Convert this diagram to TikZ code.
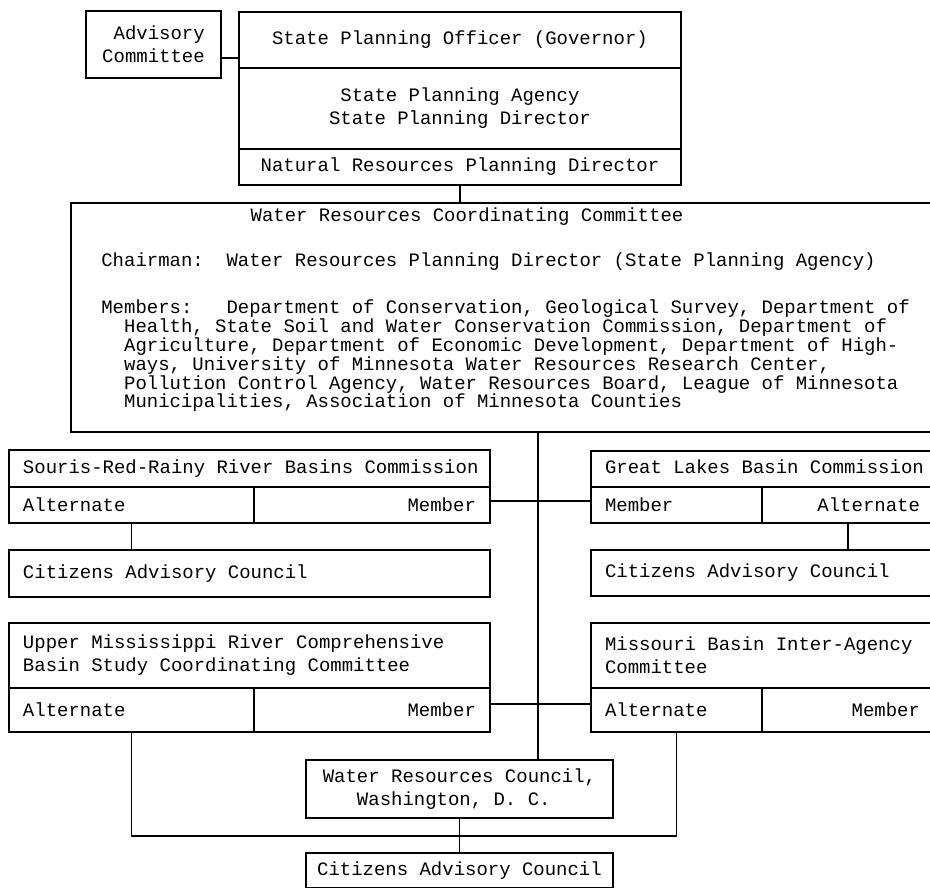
\documentclass[tikz,border=0pt]{standalone}
\usepackage{fontspec}
\setmainfont{Liberation Mono}[WordSpace={1,0,0}]
\usepackage{tikz}
\usetikzlibrary{positioning}

\tikzset{
  cell/.style={draw,line width=0.9pt,outer sep=0pt,inner xsep=0.28cm,inner ysep=0pt,
    execute at begin node={\spaceskip=0.6em\xspaceskip=0.6em\relax}},
  link/.style={line width=0.9pt},
}

\begin{document}
\begin{tikzpicture}[x=0.02cm,y=-0.02cm,font=\fontsize{10.8pt}{13pt}\selectfont]
  \clip (0,0) rectangle (930,887);

  % state planning stack
  \node[cell,anchor=north west,minimum width=8.84cm,minimum height=1.12cm] (spo) at (239,12) {State Planning Officer (Governor)};
  \node[cell,below=0pt of spo,minimum width=8.84cm,minimum height=1.62cm,align=center] (spa) {State Planning Agency\\ State Planning Director};
  \node[cell,below=0pt of spa,minimum width=8.84cm,minimum height=0.72cm] (nrp) {Natural Resources Planning Director};
  \node[cell,anchor=north west,minimum width=2.70cm,minimum height=1.34cm,align=right] (adv) at (86,11) {Advisory\\ Committee};

  % coordinating committee
  \node[cell,anchor=north west,minimum width=17.26cm,minimum height=4.58cm] (wrcc) at (71,203) {};
  \node[inner sep=0pt] (wrcc-head) at (467,217) {Water Resources Coordinating Committee};
  \node[inner sep=0pt,anchor=west] (wrcc-chair) at (101,262) {Chairman:\hspace{1.2em}Water Resources Planning Director (State Planning Agency)};
  \node[inner sep=0pt,anchor=north west,align=left,font=\fontsize{10.8pt}{10.8pt}\selectfont] (wrcc-mem) at (101,299)
    {Members:\hspace{1.8em}Department of Conservation, Geological Survey, Department of\\
     \hspace*{1.2em}Health, State Soil and Water Conservation Commission, Department of\\
     \hspace*{1.2em}Agriculture, Department of Economic Development, Department of High-\\
     \hspace*{1.2em}ways, University of Minnesota Water Resources Research Center,\\
     \hspace*{1.2em}Pollution Control Agency, Water Resources Board, League of Minnesota\\
     \hspace*{1.2em}Municipalities, Association of Minnesota Counties};

  % left column
  \node[cell,anchor=north west,text width=9.06cm,minimum height=0.74cm,align=left] (srr) at (9,450) {\mbox{Souris-Red-Rainy River Basins Commission}};
  \node[cell,below right=0pt of srr.south west,text width=4.34cm,minimum height=0.72cm,align=left] (srr-alt) {Alternate};
  \node[cell,right=0pt of srr-alt,text width=4.16cm,minimum height=0.72cm,align=right] (srr-mem) {Member};
  \node[cell,anchor=north west,text width=9.06cm,minimum height=0.94cm,align=left] (srr-cac) at (9,550) {Citizens Advisory Council};
  \node[cell,anchor=north west,text width=9.06cm,minimum height=1.30cm,align=left] (umr) at (9,623) {Upper Mississippi River Comprehensive\\ Basin Study Coordinating Committee};
  \node[cell,below right=0pt of umr.south west,text width=4.34cm,minimum height=0.88cm,align=left] (umr-alt) {Alternate};
  \node[cell,right=0pt of umr-alt,text width=4.16cm,minimum height=0.88cm,align=right] (umr-mem) {Member};

  % right column
  \node[cell,anchor=north west,text width=6.30cm,minimum height=0.72cm,align=left] (glb) at (591,451) {\mbox{Great Lakes Basin Commission\vphantom{y}}};
  \node[cell,below right=0pt of glb.south west,text width=2.86cm,minimum height=0.72cm,align=left] (glb-mem) {Member};
  \node[cell,right=0pt of glb-mem,text width=2.88cm,minimum height=0.72cm,align=right] (glb-alt) {Alternate};
  \node[cell,anchor=north west,text width=6.30cm,minimum height=0.92cm,align=left] (glb-cac) at (591,550) {Citizens Advisory Council};
  \node[cell,anchor=north west,text width=6.30cm,minimum height=1.30cm,align=left] (mbi) at (591,623) {Missouri Basin Inter-Agency\\ Committee};
  \node[cell,below right=0pt of mbi.south west,text width=2.86cm,minimum height=0.88cm,align=left] (mbi-alt) {Alternate};
  \node[cell,right=0pt of mbi-alt,text width=2.88cm,minimum height=0.88cm,align=right] (mbi-mem) {Member};

  % federal level
  \node[cell,anchor=north west,minimum width=6.14cm,minimum height=1.16cm,align=left] (wrc) at (306,760) {Water Resources Council,\\ \hspace*{1.8em}Washington, D. C.};
  \node[cell,anchor=north west,inner xsep=0.2cm,minimum width=6.14cm,minimum height=0.70cm] (wrc-cac) at (306,853) {Citizens Advisory Council};

  % connectors
  \draw[link] ([yshift=-0.27cm]adv.east) -- ([yshift=-0.27cm]adv.east -| spo.west);
  \draw[link] (nrp.south) -- (wrcc.north -| nrp.south);
  \coordinate (trunk) at (538,432);
  \draw[link] (trunk) -- (trunk |- wrc.north);
  \draw[link] ([yshift=0.08cm]srr-mem.east) -- ([yshift=0.08cm]glb-mem.west);
  \draw[link] ([yshift=0.12cm]umr-mem.east) -- ([yshift=0.12cm]mbi-alt.west);
  \draw[link] (srr-alt.south) -- (srr-alt.south |- srr-cac.north);
  \draw[link] (glb-alt.south) -- (glb-alt.south |- glb-cac.north);
  \coordinate (bus) at (462,836);
  \draw[link] (umr-alt.south) |- (bus) -| (mbi-alt.south);
  \draw[link] (wrc.south) -- (wrc-cac.north);
\end{tikzpicture}
\end{document}
